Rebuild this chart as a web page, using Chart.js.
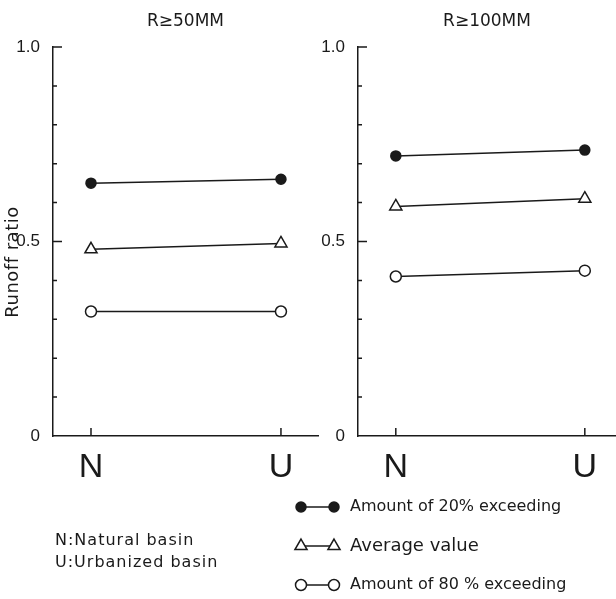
<!DOCTYPE html>
<html>
<head>
<meta charset="utf-8">
<script src="https://cdn.jsdelivr.net/npm/chart.js@4.4.1/dist/chart.umd.min.js"></script>
<style>
  html, body { margin: 0; padding: 0; background: #fff; }
  #wrap { position: relative; width: 616px; height: 599px; }
  #wrap canvas { position: absolute; left: 0; top: 0; }
</style>
</head>
<body>
<div id="wrap">
  <canvas id="chartLeft" width="616" height="599"></canvas>
  <canvas id="chartRight" width="616" height="599"></canvas>
</div>
<script>
var categories = ['N', 'U'];
var categoryNames = ['Natural basin', 'Urbanized basin'];
var seriesNames = ['Amount of 20% exceeding', 'Average value', 'Amount of 80 % exceeding'];

// rainfall R >= 50 mm
var r50High = [0.65, 0.66];
var r50Mean = [0.48, 0.495];
var r50Low = [0.32, 0.32];

// rainfall R >= 100 mm
var r100High = [0.72, 0.735];
var r100Mean = [0.59, 0.61];
var r100Low = [0.41, 0.425];

var yTicks = [0, 0.5, 1.0];
var yTickLabels = ['0', '0.5', '1.0'];

var INK = '#1a1a1a';
var seriesStyle = [
    { pointStyle: 'circle', radius: 5, fill: INK },
    { pointStyle: 'triangle', radius: 7, fill: '#fff' },
    { pointStyle: 'circle', radius: 5.5, fill: '#fff' }
];

function toPoints(values) {
    return values.map(function (v, i) { return { x: i, y: v }; });
}

function round1(v) { return Math.round(v * 10) / 10; }

// short ticks drawn on the inside of both axes
var innerTicks = {
    id: 'innerTicks',
    afterDatasetsDraw: function (chart) {
        var ctx = chart.ctx, area = chart.chartArea;
        var xs = chart.scales.x, ys = chart.scales.y;
        ctx.save();
        ctx.strokeStyle = INK;
        ctx.lineWidth = 1.5;
        ctx.beginPath();
        ys.ticks.forEach(function (t) {
            if (t.value <= 0) return;
            var py = ys.getPixelForValue(t.value);
            var len = yTicks.indexOf(round1(t.value)) >= 0 ? 9 : 4;
            ctx.moveTo(area.left, py);
            ctx.lineTo(area.left + len, py);
        });
        xs.ticks.forEach(function (t) {
            var px = xs.getPixelForValue(t.value);
            ctx.moveTo(px, area.bottom);
            ctx.lineTo(px, area.bottom - 8);
        });
        ctx.stroke();
        ctx.restore();
    }
};

// axis title and the N / U explanation under the left panel
var basinNotes = {
    id: 'basinNotes',
    afterDraw: function (chart) {
        var ctx = chart.ctx;
        ctx.save();
        ctx.fillStyle = INK;
        ctx.textBaseline = 'middle';
        ctx.font = '16px "DejaVu Sans"';
        ctx.letterSpacing = '1px';
        categories.forEach(function (c, i) {
            ctx.fillText(c + ':' + categoryNames[i], 55, 541 + i * 22);
        });
        ctx.translate(13, 262);
        ctx.rotate(-Math.PI / 2);
        ctx.textAlign = 'center';
        ctx.font = '18px "DejaVu Sans"';
        ctx.letterSpacing = '0.5px';
        ctx.fillText('Runoff ratio', 0, 0);
        ctx.restore();
    }
};

// marker - marker key under the right panel
var seriesKey = {
    id: 'seriesKey',
    afterDraw: function (chart) {
        var ctx = chart.ctx;
        chart.data.datasets.forEach(function (ds, i) {
            var y = 507 + i * 39, x0 = 301, x1 = 334;
            ctx.save();
            ctx.strokeStyle = INK;
            ctx.lineWidth = 1.5;
            ctx.beginPath();
            ctx.moveTo(x0, y);
            ctx.lineTo(x1, y);
            ctx.stroke();
            ctx.fillStyle = ds.pointBackgroundColor;
            [x0, x1].forEach(function (x) {
                Chart.helpers.drawPoint(ctx, {
                    pointStyle: ds.pointStyle, radius: ds.pointRadius,
                    borderWidth: ds.pointBorderWidth, rotation: 0
                }, x, y);
            });
            ctx.fillStyle = INK;
            ctx.textBaseline = 'middle';
            ctx.font = (i == 1 ? '18px' : '16px') + ' "DejaVu Sans"';
            ctx.fillText(ds.label, 350, y);
            ctx.restore();
        });
    }
};

function makePanel(id, title, high, mean, low, side) {
    var sets = [high, mean, low];
    return new Chart(document.getElementById(id), {
        type: 'line',
        data: {
            datasets: sets.map(function (vals, i) {
                var st = seriesStyle[i];
                return {
                    label: seriesNames[i],
                    data: toPoints(vals),
                    borderColor: INK,
                    borderWidth: 1.5,
                    pointStyle: st.pointStyle,
                    pointRadius: st.radius,
                    pointBackgroundColor: st.fill,
                    pointBorderColor: INK,
                    pointBorderWidth: 1.5
                };
            })
        },
        options: {
            responsive: false,
            animation: false,
            devicePixelRatio: 1,
            layout: { padding: side.padding, autoPadding: false },
            plugins: {
                legend: { display: false },
                tooltip: { enabled: false },
                title: {
                    display: true, text: title, fullSize: false, color: INK,
                    font: { family: 'DejaVu Sans', size: 17, weight: 'normal' },
                    padding: { top: 11, bottom: 15.6 }
                }
            },
            scales: {
                x: {
                    type: 'linear', min: -0.2, max: side.xMax,
                    grid: { display: false },
                    border: { display: true, color: INK, width: 1.5 },
                    afterBuildTicks: function (s) {
                        s.ticks = categories.map(function (c, i) { return { value: i }; });
                    },
                    afterFit: function (s) {
                        s.height = 50;
                        s.paddingLeft = 0;
                        s.paddingRight = 0;
                    },
                    ticks: {
                        color: INK, padding: 3, maxRotation: 0, autoSkip: false,
                        font: { family: 'Liberation Sans', size: 34 },
                        callback: function (v) { return categories[v]; }
                    }
                },
                y: {
                    min: 0, max: 1,
                    grid: { display: false },
                    border: { display: true, color: INK, width: 1.5 },
                    afterFit: function (s) {
                        s.width = side.yWidth;
                        s.paddingTop = 0;
                        s.paddingBottom = 0;
                    },
                    ticks: {
                        stepSize: 0.1, color: INK, padding: 5, autoSkip: false,
                        font: { family: 'Liberation Sans', size: 17 },
                        callback: function (v) {
                            var k = yTicks.indexOf(round1(v));
                            return k >= 0 ? yTickLabels[k] : '';
                        }
                    }
                }
            }
        },
        plugins: [innerTicks].concat(side.extra)
    });
}

makePanel('chartLeft', 'R\u226550MM', r50High, r50Mean, r50Low, {
    padding: { left: 0, right: 298, top: 0, bottom: 113 },
    yWidth: 53, xMax: 1.195, extra: [basinNotes]
});
makePanel('chartRight', 'R\u2265100MM', r100High, r100Mean, r100Low, {
    padding: { left: 318, right: 0, top: 0, bottom: 113 },
    yWidth: 40, xMax: 1.165, extra: [seriesKey]
});
</script>
</body>
</html>
